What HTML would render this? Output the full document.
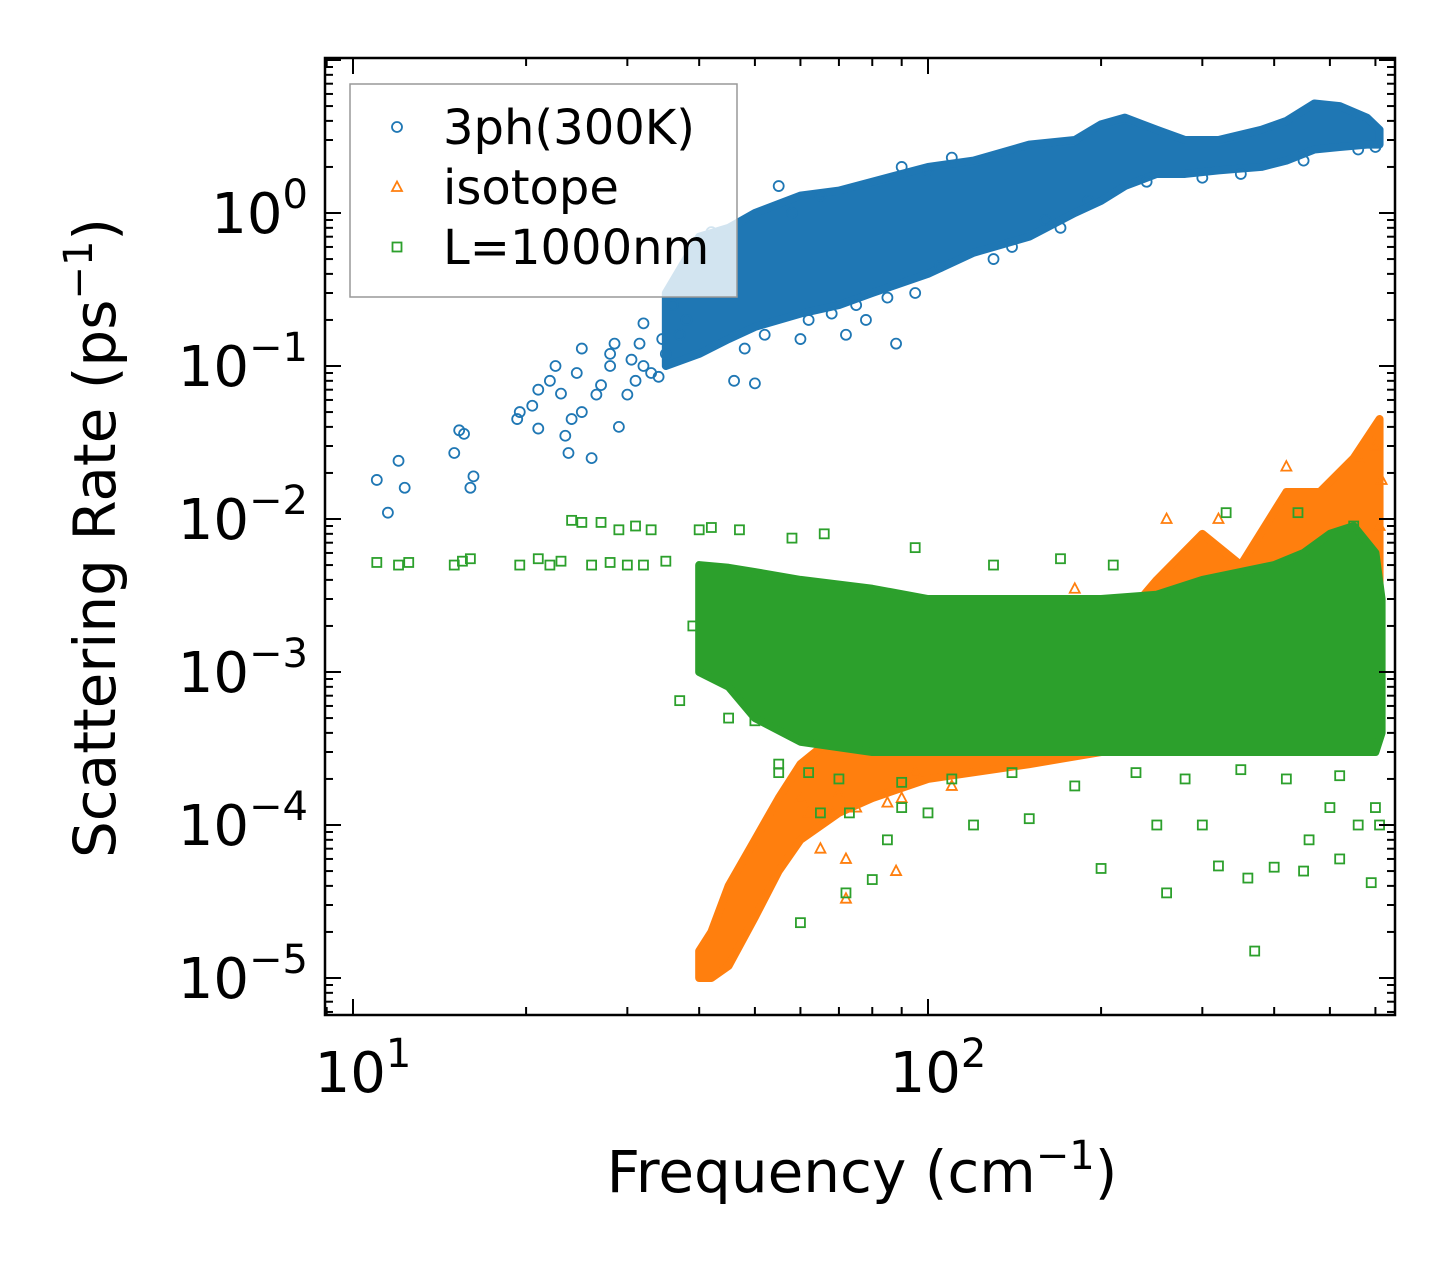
<!DOCTYPE html>
<html><head><meta charset="utf-8"><style>
body{margin:0;background:#fff}
svg{display:block;font-family:"DejaVu Sans","Liberation Sans",sans-serif}
</style></head><body>
<svg id="chart" width="1455" height="1265" viewBox="0 0 1455 1265" xmlns="http://www.w3.org/2000/svg">
<rect width="1455" height="1265" fill="#fff"/>
<g id="marks"></g>
<g id="axes"></g>
</svg>
<script>
// ---- data (frequency cm^-1, rate ps^-1) ----
const blueX=[11,11.5,12,12.3,15,15.3,15.6,16,16.2,19.3,19.5,20.5,21,21,22,22.5,23,23.4,23.7,24,24.5,25,25,26,26.5,27,28,28.5,28,29,30,30.5,31,31.5,32,32,33,34,34.5,35,36,37,38,46,50,88,72,78,55,58,65,90,100,110,140,160,60,45,42,38,48,52,62,68,75,85,95,105,130,170,190,240,300,350,450,560,600];
const blueY=[0.018,0.011,0.024,0.016,0.027,0.038,0.036,0.016,0.019,0.045,0.05,0.055,0.039,0.07,0.08,0.1,0.066,0.035,0.027,0.045,0.09,0.13,0.05,0.025,0.065,0.075,0.1,0.14,0.12,0.04,0.065,0.11,0.08,0.14,0.19,0.1,0.09,0.085,0.15,0.12,0.25,0.16,0.2,0.08,0.077,0.14,0.16,0.2,1.5,1.0,1.3,2.0,1.9,2.3,0.6,0.9,0.15,0.6,0.75,0.35,0.13,0.16,0.2,0.22,0.25,0.28,0.3,0.45,0.5,0.8,1.2,1.6,1.7,1.8,2.2,2.6,2.7];
const blueBandX=[35,40,45,50,60,70,80,100,120,150,180,200,220,250,280,320,380,420,470,520,580,610];
const blueBandLo=[0.1,0.12,0.15,0.18,0.22,0.25,0.3,0.4,0.55,0.7,1.0,1.2,1.5,1.8,1.8,1.9,2.0,2.2,2.6,2.7,2.8,2.8];
const blueBandHi=[0.3,0.7,0.8,1.0,1.3,1.4,1.6,2.0,2.2,2.8,3.0,3.8,4.2,3.5,3.0,3.0,3.5,4.0,5.2,5.0,4.2,3.5];
const orangeX=[72,72,65,88,85,75,70,68,60,62,180,260,320,420,560,600,610,615,90,95,110];
const orangeY=[3.3e-5,6e-5,7e-5,5e-5,1.4e-4,1.3e-4,1.6e-4,1.2e-4,1.5e-4,1.2e-4,3.5e-3,1e-2,1e-2,2.2e-2,2.5e-2,3e-2,9e-3,1.8e-2,1.5e-4,2.2e-4,1.8e-4];
const orangeBandX=[40,42,45,50,55,60,70,80,100,150,200,250,300,350,420,480,550,610];
const orangeBandLo=[1e-5,1e-5,1.2e-5,2.5e-5,5e-5,8e-5,1.2e-4,1.5e-4,2e-4,2.5e-4,3e-4,4e-4,5e-4,6e-4,8e-4,1e-3,1e-3,1e-3];
const orangeBandHi=[1.5e-5,2e-5,4e-5,8e-5,1.5e-4,2.5e-4,4e-4,5e-4,6e-4,8e-4,1.5e-3,4e-3,8e-3,5e-3,1.5e-2,1.5e-2,2.5e-2,4.5e-2];
const greenX=[11,12,12.5,15,15.5,16,19.5,21,22,23,24,25,26,27,28,29,30,31,32,33,35,37,39,40,42,45,47,50,55,60,65,72,73,80,85,90,100,120,150,200,260,320,360,370,400,450,500,520,560,590,600,610,250,300,330,440,550,460,55,62,70,90,110,140,180,230,280,350,420,520,58,66,95,130,170,210];
const greenY=[5.2e-3,5e-3,5.2e-3,5e-3,5.3e-3,5.5e-3,5e-3,5.5e-3,5e-3,5.3e-3,9.8e-3,9.5e-3,5e-3,9.5e-3,5.2e-3,8.5e-3,5e-3,9e-3,5e-3,8.5e-3,5.3e-3,6.5e-4,2e-3,8.5e-3,8.8e-3,5e-4,8.5e-3,4.8e-4,2.2e-4,2.3e-5,1.2e-4,3.6e-5,1.2e-4,4.4e-5,8e-5,1.3e-4,1.2e-4,1e-4,1.1e-4,5.2e-5,3.6e-5,5.4e-5,4.5e-5,1.5e-5,5.3e-5,5e-5,1.3e-4,6e-5,1e-4,4.2e-5,1.3e-4,1e-4,1e-4,1e-4,1.1e-2,1.1e-2,9e-3,8e-5,2.5e-4,2.2e-4,2e-4,1.9e-4,2e-4,2.2e-4,1.8e-4,2.2e-4,2e-4,2.3e-4,2e-4,2.1e-4,7.5e-3,8e-3,6.5e-3,5e-3,5.5e-3,5e-3];
const greenBandX=[40,45,50,60,80,100,150,200,250,300,400,450,500,550,600,615];
const greenBandLo=[1e-3,8e-4,5e-4,3.5e-4,3e-4,3e-4,3e-4,3e-4,3e-4,3e-4,3e-4,3e-4,3e-4,3e-4,3e-4,4e-4];
const greenBandHi=[5e-3,4.8e-3,4.5e-3,4e-3,3.5e-3,3e-3,3e-3,3e-3,3.2e-3,4e-3,5e-3,6e-3,8e-3,9e-3,6e-3,3e-3];
const xTicks=[1,2];
const yTicks=[0,-1,-2,-3,-4,-5];

// ---- axes geometry ----
const L=325,R=1395,T=58,B=1015;
const xlo=0.9513,xhi=2.8122,ylo=-5.2418,yhi=1.0131;
const xs=v=>L+(Math.log10(v)-xlo)/(xhi-xlo)*(R-L);
const ys=v=>B-(Math.log10(v)-ylo)/(yhi-ylo)*(B-T);
const NS="http://www.w3.org/2000/svg";
function mk(tag,attrs,parent){const e=document.createElementNS(NS,tag);for(const k in attrs)e.setAttribute(k,attrs[k]);parent.appendChild(e);return e;}
const marks=document.getElementById('marks'),axes=document.getElementById('axes');

function band(xa,lo,hi,color,name){
  let d='M'+xa.map((x,i)=>xs(x)+','+ys(hi[i])).join('L');
  for(let i=xa.length-1;i>=0;i--)d+='L'+xs(xa[i])+','+ys(lo[i]);
  const p=mk('path',{d:d+'Z',fill:color,stroke:color,'stroke-width':8,'stroke-linejoin':'round'},marks);
  
  
}
function marker(type,cx,cy,color,parent){
  let e;
  if(type==='o')e=mk('circle',{cx:cx,cy:cy,r:5,fill:'none',stroke:color,'stroke-width':1.8},parent);
  else if(type==='s')e=mk('rect',{x:cx-4.5,y:cy-4.5,width:9,height:9,fill:'none',stroke:color,'stroke-width':1.8},parent);
  else e=mk('path',{d:`M${cx},${cy-5.5}L${cx+5},${cy+4}L${cx-5},${cy+4}Z`,fill:'none',stroke:color,'stroke-width':1.8},parent);
  return e;
}
function pts(xa,ya,type,color,name){
  const g=mk('g',{},marks);
  
  
  xa.forEach((x,i)=>{const e=marker(type,xs(x),ys(ya[i]),color,g);
    
    });
}
const C1='#1f77b4',C2='#ff7f0e',C3='#2ca02c';
band(blueBandX,blueBandLo,blueBandHi,C1,'3ph-dense-band');
pts(blueX,blueY,'o',C1,'3ph-series');
band(orangeBandX,orangeBandLo,orangeBandHi,C2,'isotope-dense-band');
pts(orangeX,orangeY,'t',C2,'isotope-series');
band(greenBandX,greenBandLo,greenBandHi,C3,'boundary-dense-band');
pts(greenX,greenY,'s',C3,'boundary-series');

// frame
mk('rect',{x:L,y:T,width:R-L,height:B-T,fill:'none',stroke:'#000','stroke-width':2.5},axes);
for(let dec=0;dec<=3;dec++)for(let m=1;m<10;m++){
  const v=m*Math.pow(10,dec);const px=xs(v);if(px<L||px>R)continue;
  const len=m===1?16:8;
  mk('line',{x1:px,y1:B,x2:px,y2:B-len,stroke:'#000','stroke-width':2},axes);
  mk('line',{x1:px,y1:T,x2:px,y2:T+len,stroke:'#000','stroke-width':2},axes);
}
for(let dec=-6;dec<=1;dec++)for(let m=1;m<10;m++){
  const v=m*Math.pow(10,dec);const py=ys(v);if(py<T||py>B)continue;
  const len=m===1?16:8;
  mk('line',{x1:L,y1:py,x2:L+len,y2:py,stroke:'#000','stroke-width':2},axes);
  mk('line',{x1:R,y1:py,x2:R-len,y2:py,stroke:'#000','stroke-width':2},axes);
}
function powLabel(x,y,e,anchor,name){
  const t=mk('text',{x:x,y:y,'font-size':56,'text-anchor':anchor,fill:'#000'},axes);
  
  
  t.innerHTML='10<tspan dy="-25" font-size="40">'+(e<0?'\u2212'+(-e):e)+'</tspan>';
}
xTicks.forEach(e=>powLabel(xs(Math.pow(10,e))+10,1092,e,'middle','x-tick-label'));
yTicks.forEach(e=>powLabel(308,ys(Math.pow(10,e))+20,e,'end','y-tick-label'));
const xl=mk('text',{x:862,y:1192,'font-size':58,'text-anchor':'middle'},axes);

xl.innerHTML='Frequency (cm<tspan dy="-23" font-size="40">\u22121</tspan><tspan dy="23">)</tspan>';
const yl=mk('text',{x:0,y:0,'font-size':58,'text-anchor':'middle',transform:'translate(115,538) rotate(-90)'},axes);

yl.innerHTML='Scattering Rate (ps<tspan dy="-23" font-size="40">\u22121</tspan><tspan dy="23">)</tspan>';

// legend
const lg=mk('g',{},axes);

mk('rect',{x:350,y:84,width:387,height:213,fill:'#fff','fill-opacity':0.8,stroke:'#999','stroke-width':1.5},lg);
[['o',C1,'3ph(300K)'],['t',C2,'isotope'],['s',C3,'L=1000nm']].forEach((d,i)=>{
  const y=127+i*60;
  const e=marker(d[0],397,y,d[1],lg);
  
  const t=mk('text',{x:443,y:y+17,'font-size':48},lg);t.textContent=d[2];
  
});
</script>
</body></html>
